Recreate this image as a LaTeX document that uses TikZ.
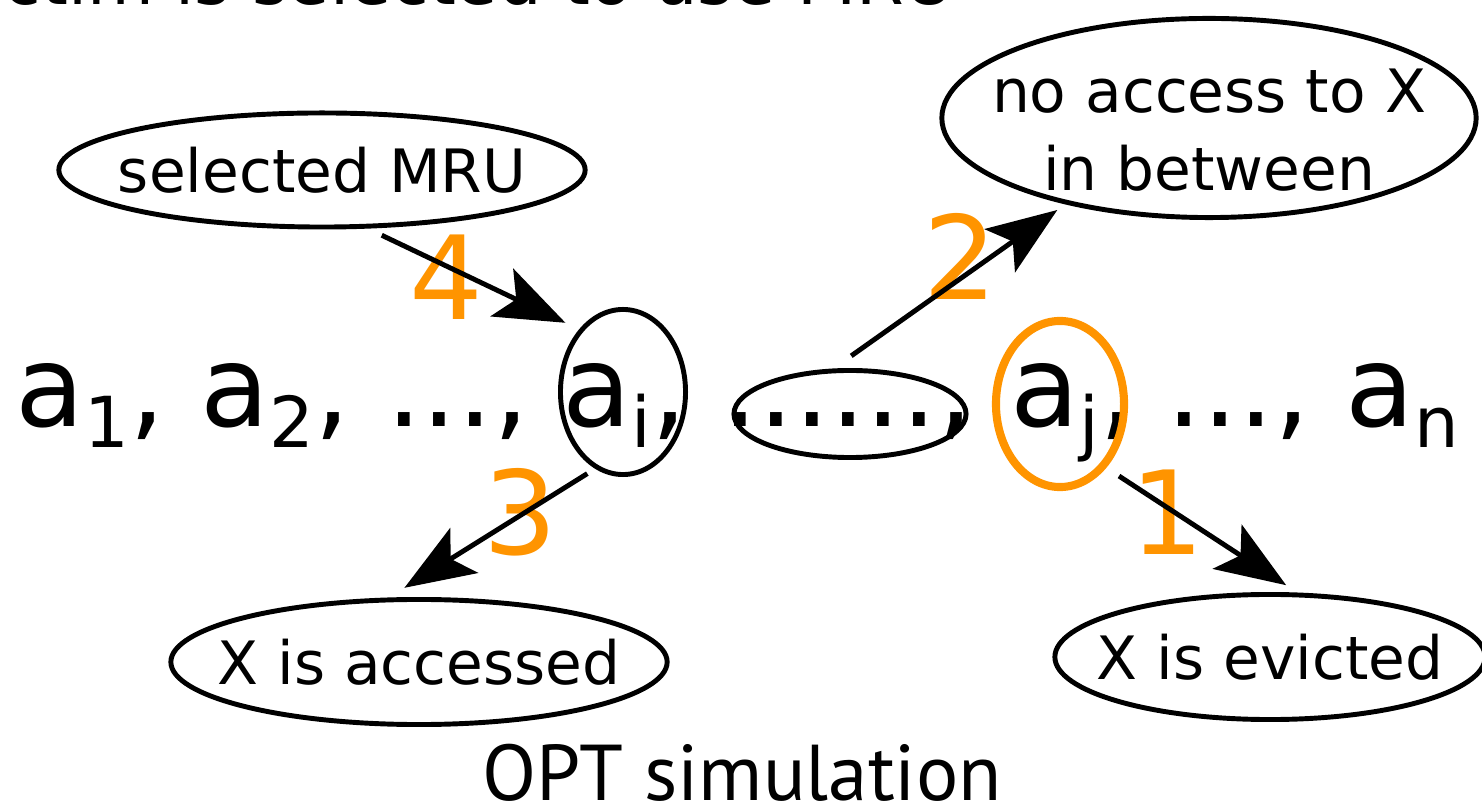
\documentclass[tikz,border=0pt]{standalone}
\usepackage{fontspec}
\setmainfont{DejaVu Sans}
\newfontfamily\optfont{PT Sans}
\usetikzlibrary{arrows.meta,shapes.geometric}
\definecolor{numorange}{RGB}{255,148,0}
\newcommand{\subix}[1]{\raisebox{-5.7pt}{\fontsize{20}{20}\selectfont #1}}

\begin{document}
\begin{tikzpicture}[x=0.01cm, y=-0.01cm,
  lbl/.style={ellipse, draw, line width=1.4pt, inner sep=0pt},
  every label/.style={inner sep=0pt, align=center, font=\fontsize{17}{22}\selectfont},
  ring/.style={ellipse, draw, line width=1.4pt, inner sep=0pt},
  seq/.style={anchor=base west, inner sep=0pt, font=\fontsize{32}{32}\selectfont},
  num/.style={anchor=base, inner sep=0pt, text=numorange, font=\fontsize{33}{33}\selectfont},
  arr/.style={-{Stealth[length=20pt, width=15pt, inset=4.5pt]}, line width=1.4pt}]
  \useasboundingbox (0,0) rectangle (1482,807);

  % heading, cut off by the top edge
  \node[anchor=base east, inner sep=0pt, font=\fontsize{19.5}{20}\selectfont] (head) at (955,5) {Victim is selected to use MRU};

  % the access sequence
  \node[seq] (first) at (15,427) {a\subix{1}, a\subix{2}, ...,};
  \node[seq] (ai) at (562,427) {a\subix{i},};
  \node[seq] (gap) at (722,427) {......,};
  \node[seq] (aj) at (1010,427) {a\subix{j},};
  \node[seq] (last) at (1166,427) {..., a\subix{n}};

  % rings round the accesses
  \node[ring, minimum width=1.25cm, minimum height=1.65cm] (ri) at (623,392) {};
  \node[ring, minimum width=2.32cm, minimum height=0.87cm] (rgap) at (850,414) {};
  \node[ring, draw=numorange, line width=2.3pt, minimum width=1.28cm, minimum height=1.66cm] (rj) at (1060,404) {};

  % labels
  \node[lbl, minimum width=5.26cm, minimum height=1.14cm, label=center:selected MRU] (sel) at (322,170) {};
  \node[lbl, minimum width=5.34cm, minimum height=1.99cm, label={[yshift=-3.4pt]center:no access to X\\in between}] (noacc) at (1209,118) {};
  \node[lbl, minimum width=4.96cm, minimum height=1.25cm, label=center:X is accessed] (acc) at (419,662) {};
  \node[lbl, minimum width=4.30cm, minimum height=1.25cm, label=center:X is evicted] (evi) at (1270,657) {};

  % order of the steps
  \node[num] (n4) at (446,320) {4};
  \node[num] (n2) at (960,300) {2};
  \node[num] (n3) at (520,555) {3};
  \node[num] (n1) at (1167,555) {1};

  \draw[arr, shorten <=4.4pt, shorten >=4.3pt] (sel.-52) -- (ri.125);
  \draw[arr, shorten <=6.2pt, shorten >=2.8pt] (rgap.110) -- (noacc.-149.5);
  \draw[arr, shorten <=2.6pt, shorten >=5.2pt] (ri.-110) -- (acc.115);
  \draw[arr, shorten <=4.3pt, shorten >=3.8pt] (rj.-54) -- (evi.67);

  \node[anchor=base, inner sep=0pt, font=\optfont\fontsize{22.5}{24}\selectfont] (opt) at (742,800) {OPT simulation};
\end{tikzpicture}
\end{document}
